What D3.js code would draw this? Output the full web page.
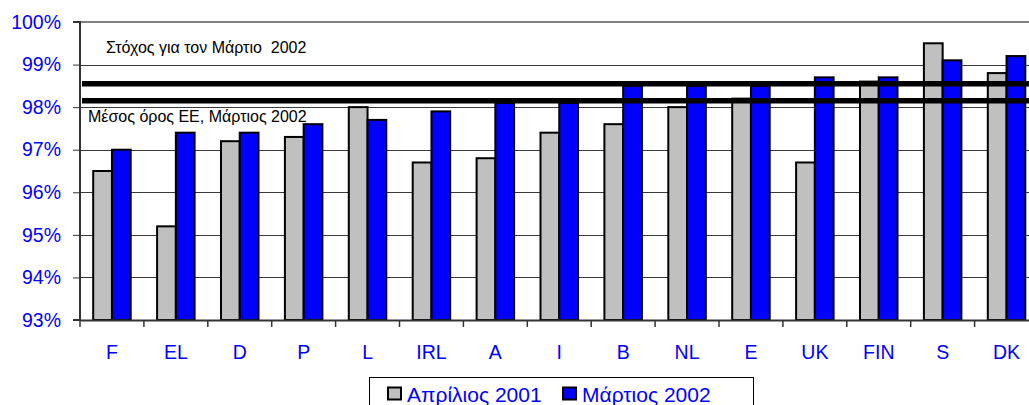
<!DOCTYPE html>
<html><head><meta charset="utf-8">
<script src="https://cdn.jsdelivr.net/npm/d3@7"></script>
<style>
html,body{margin:0;padding:0;background:#fff;}
svg{display:block;font-family:"Liberation Sans",Arial,sans-serif;}
</style>
</head><body>
<svg id="chart" width="1029" height="405"></svg>
<script>
const categories = ["F","EL","D","P","L","IRL","A","I","B","NL","E","UK","FIN","S","DK"];
const seriesNames = ["Απρίλιος 2001","Μάρτιος 2002"];
const april2001 = [96.5,95.2,97.2,97.3,98.0,96.7,96.8,97.4,97.6,98.0,98.2,96.7,98.6,99.5,98.8];
const march2002 = [97.0,97.4,97.4,97.6,97.7,97.9,98.1,98.1,98.5,98.5,98.5,98.7,98.7,99.1,99.2];
const yTicks = [93,94,95,96,97,98,99,100];
const targetValue = 98.55;
const euAverage = 98.15;
const targetLabel = "Στόχος για τον Μάρτιο  2002";
const averageLabel = "Μέσος όρος ΕΕ, Μάρτιος 2002";
const seriesColors = ["#c0c0c0","#0000ff"];

const svg = d3.select("#chart");
const mLeft = 80, mTop = 22, mBottom = 320, mRight = 80 + 15*63.9;
const blue = "#0000ff";

const y = d3.scaleLinear().domain([93,100]).range([mBottom, mTop]);
const x0 = d3.scaleBand().domain(categories).range([mLeft, mRight]).padding(0);
const bw = x0.bandwidth();
const groupW = 37.5;
const x1 = d3.scaleBand().domain(seriesNames).range([(bw-groupW)/2, (bw+groupW)/2]).padding(0);

// gridlines
svg.append("g").selectAll("line").data(yTicks.filter(d=>d>93 && d<100)).join("line")
  .attr("x1", mLeft).attr("x2", 1029)
  .attr("y1", d=>Math.round(y(d))+0.5).attr("y2", d=>Math.round(y(d))+0.5)
  .attr("stroke", "#3a3a3a").attr("stroke-width", 1);
// top border
svg.append("line").attr("x1", mLeft).attr("x2", 1029)
  .attr("y1", y(100)).attr("y2", y(100))
  .attr("stroke", "#808080").attr("stroke-width", 2);

// bars
const data = categories.map((c,i)=>({cat:c, vals:[april2001[i], march2002[i]]}));
const groups = svg.append("g").selectAll("g").data(data).join("g")
  .attr("transform", d=>`translate(${x0(d.cat)},0)`);
groups.selectAll("rect").data(d=>d.vals.map((v,j)=>({v, s:seriesNames[j], j}))).join("rect")
  .attr("x", d=>x1(d.s))
  .attr("width", x1.bandwidth())
  .attr("y", d=>y(d.v))
  .attr("height", d=>y(93)-y(d.v))
  .attr("fill", d=>seriesColors[d.j])
  .attr("stroke", "#000").attr("stroke-width", 2);

// reference lines
[targetValue, euAverage].forEach(v=>{
  svg.append("line").attr("x1", mLeft+2).attr("x2", 1029)
    .attr("y1", y(v)).attr("y2", y(v))
    .attr("stroke", "#000").attr("stroke-width", 5.5);
});
svg.append("text").attr("x", 106).attr("y", 52.5).attr("font-size", 16)
  .style("white-space","pre").attr("fill","#000").text(targetLabel);
svg.append("text").attr("x", 88).attr("y", 121.5).attr("font-size", 16)
  .style("white-space","pre").attr("fill","#000").text(averageLabel);

// y axis
const yAxis = d3.axisLeft(y).tickValues(yTicks).tickFormat(d=>d+"%").tickSize(7).tickPadding(12);
const gy = svg.append("g").attr("transform", `translate(${mLeft},0)`).call(yAxis);
gy.select(".domain").attr("stroke","#333").attr("stroke-width",2).attr("d", `M-7,${y(100)}H0V${y(93)}H-7`);
gy.selectAll(".tick line").attr("stroke","#333");
gy.selectAll(".tick text").attr("fill", blue).attr("font-size", 19.5).attr("font-family","Liberation Sans, Arial, sans-serif");

// x axis
const xAxis = d3.axisBottom(x0).tickSize(0).tickPadding(25);
const gx = svg.append("g").attr("transform", `translate(0,${mBottom})`).call(xAxis);
gx.select(".domain").attr("stroke","#333").attr("stroke-width",2);
gx.selectAll(".tick text").attr("fill", blue).attr("font-size", 19.5).attr("font-family","Liberation Sans, Arial, sans-serif");
// separator ticks between categories
svg.append("g").selectAll("line").data(categories).join("line")
  .attr("x1", d=>x0(d)).attr("x2", d=>x0(d))
  .attr("y1", mBottom).attr("y2", mBottom+7)
  .attr("stroke", "#333").attr("stroke-width", 1.5);

// legend
const lg = svg.append("g");
lg.append("rect").attr("x", 369.5).attr("y", 377.5).attr("width", 384).attr("height", 40)
  .attr("fill","#fff").attr("stroke","#000").attr("stroke-width",1);
const legendX = [388, 563];
seriesNames.forEach((s,i)=>{
  lg.append("rect").attr("x", legendX[i]).attr("y", 387.5).attr("width", 13).attr("height", 12)
    .attr("fill", seriesColors[i]).attr("stroke","#000").attr("stroke-width",2);
  lg.append("text").attr("x", legendX[i]+19).attr("y", 402).attr("font-size", 21)
    .attr("fill", blue).text(s);
});
</script>
</body></html>
